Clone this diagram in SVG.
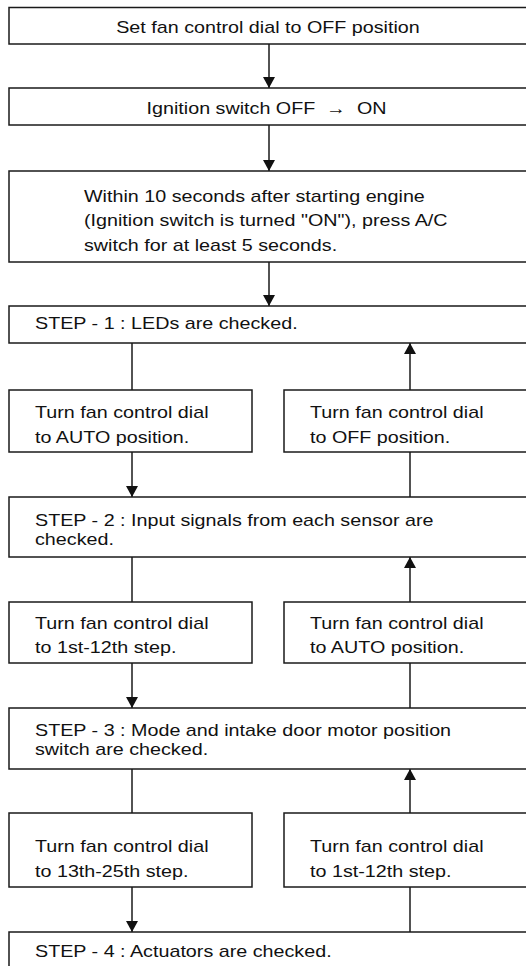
<svg xmlns="http://www.w3.org/2000/svg" width="526" height="966" viewBox="0 0 526 966">
<style>
rect.box{fill:#fff;stroke:#1a1a1a;stroke-width:1.5}
text{font-family:"Liberation Sans",Arial,sans-serif;font-size:17px;fill:#111}
.c line{stroke:#1a1a1a;stroke-width:1.5}
</style>
<defs>
<marker id="ah" viewBox="0 0 11 12" refX="11" refY="6" markerWidth="11" markerHeight="12" markerUnits="userSpaceOnUse" orient="auto">
<path d="M0,0 L11,6 L0,12 Z" fill="#111"/>
</marker>
</defs>
<g class="c" id="connectors">
<line x1="269" y1="44" x2="269" y2="88" marker-end="url(#ah)"/>
<line x1="269" y1="125" x2="269" y2="171" marker-end="url(#ah)"/>
<line x1="269" y1="262" x2="269" y2="306" marker-end="url(#ah)"/>
<line x1="132" y1="343" x2="132" y2="390"/>
<line x1="132" y1="452" x2="132" y2="497" marker-end="url(#ah)"/>
<line x1="410" y1="497" x2="410" y2="452"/>
<line x1="410" y1="390" x2="410" y2="343" marker-end="url(#ah)"/>
<line x1="132" y1="557" x2="132" y2="602"/>
<line x1="132" y1="663" x2="132" y2="708" marker-end="url(#ah)"/>
<line x1="410" y1="708" x2="410" y2="663"/>
<line x1="410" y1="602" x2="410" y2="557" marker-end="url(#ah)"/>
<line x1="132" y1="769" x2="132" y2="813"/>
<line x1="132" y1="887" x2="132" y2="932" marker-end="url(#ah)"/>
<line x1="410" y1="932" x2="410" y2="887"/>
<line x1="410" y1="813" x2="410" y2="769" marker-end="url(#ah)"/>
</g>
<g id="n1"><rect class="box" x="9" y="7.5" width="540" height="36.5"/>
<text transform="matrix(1.16 0 0 1 268 33)" text-anchor="middle">Set fan control dial to OFF position</text></g>
<g id="n2"><rect class="box" x="9" y="88" width="540" height="37"/>
<text transform="matrix(1.16 0 0 1 266.5 114)" text-anchor="middle" xml:space="preserve">Ignition switch OFF  →  ON</text></g>
<g id="n3"><rect class="box" x="9" y="171" width="540" height="91"/>
<text transform="matrix(1.16 0 0 1 84 202)"><tspan x="0" y="0">Within 10 seconds after starting engine</tspan><tspan x="0" y="24.5">(Ignition switch is turned "ON"), press A/C</tspan><tspan x="0" y="49">switch for at least 5 seconds.</tspan></text></g>
<g id="step1"><rect class="box" x="9" y="306" width="540" height="37"/>
<text transform="matrix(1.16 0 0 1 35 329)">STEP - 1 : LEDs are checked.</text></g>
<g id="a1"><rect class="box" x="9" y="390" width="243" height="62"/>
<text transform="matrix(1.16 0 0 1 35 418)"><tspan x="0" y="0">Turn fan control dial</tspan><tspan x="0" y="25">to AUTO position.</tspan></text></g>
<g id="b1"><rect class="box" x="284" y="390" width="260" height="62"/>
<text transform="matrix(1.16 0 0 1 310 418)"><tspan x="0" y="0">Turn fan control dial</tspan><tspan x="0" y="25">to OFF position.</tspan></text></g>
<g id="step2"><rect class="box" x="9" y="497" width="540" height="60"/>
<text transform="matrix(1.16 0 0 1 35 526)"><tspan x="0" y="0">STEP - 2 : Input signals from each sensor are</tspan><tspan x="0" y="19">checked.</tspan></text></g>
<g id="a2"><rect class="box" x="9" y="602" width="243" height="61"/>
<text transform="matrix(1.16 0 0 1 35 629)"><tspan x="0" y="0">Turn fan control dial</tspan><tspan x="0" y="24.5">to 1st-12th step.</tspan></text></g>
<g id="b2"><rect class="box" x="284" y="602" width="260" height="61"/>
<text transform="matrix(1.16 0 0 1 310 629)"><tspan x="0" y="0">Turn fan control dial</tspan><tspan x="0" y="24.5">to AUTO position.</tspan></text></g>
<g id="step3"><rect class="box" x="9" y="708" width="540" height="61"/>
<text transform="matrix(1.16 0 0 1 35 736)"><tspan x="0" y="0">STEP - 3 : Mode and intake door motor position</tspan><tspan x="0" y="19">switch are checked.</tspan></text></g>
<g id="a3"><rect class="box" x="9" y="813" width="243" height="74"/>
<text transform="matrix(1.16 0 0 1 35 852)"><tspan x="0" y="0">Turn fan control dial</tspan><tspan x="0" y="25">to 13th-25th step.</tspan></text></g>
<g id="b3"><rect class="box" x="284" y="813" width="260" height="74"/>
<text transform="matrix(1.16 0 0 1 310 852)"><tspan x="0" y="0">Turn fan control dial</tspan><tspan x="0" y="25">to 1st-12th step.</tspan></text></g>
<g id="step4"><rect class="box" x="9" y="932" width="540" height="60"/>
<text transform="matrix(1.16 0 0 1 35 957)">STEP - 4 : Actuators are checked.</text></g>
</svg>
